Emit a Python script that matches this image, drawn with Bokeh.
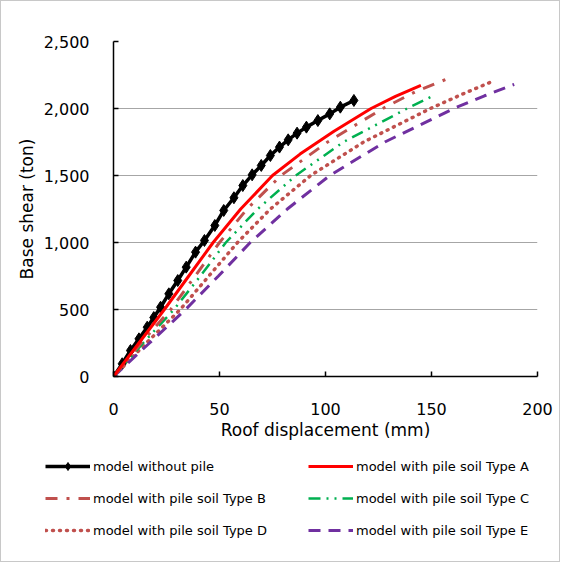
from bokeh.plotting import figure
from bokeh.layouts import column
from bokeh.models import Legend, LegendItem, NumeralTickFormatter, FixedTicker, Range1d
from bokeh.embed import file_html
from bokeh.resources import INLINE

# ---- data (roof displacement in mm, base shear in ton) ----
x_ticks = [0, 50, 100, 150, 200]
y_ticks = [0, 500, 1000, 1500, 2000, 2500]

disp_no_pile = [0, 4.1, 8, 12, 15.9, 19, 22.2, 26.1, 30.3, 34.3, 38.7, 42.9, 47.8, 52,
                56.8, 61, 65.4, 69.7, 74, 78.3, 82.4, 86.6, 91, 96.4, 102, 107, 113.4]
shear_no_pile = [0, 95, 194, 281, 368, 440, 517, 617, 716, 816, 928, 1015, 1127, 1239,
                 1334, 1425, 1505, 1575, 1649, 1712, 1766, 1816, 1861, 1910, 1960, 2010, 2060]

disp_A = [0, 12, 24, 35.5, 47, 60, 75, 88, 104, 121.5, 133, 145]
shear_A = [0, 250, 500, 750, 1000, 1250, 1500, 1660, 1830, 2000, 2090, 2172]

disp_B = [0, 13, 27, 38.5, 50, 63, 79, 101, 127, 143, 159.5]
shear_B = [0, 250, 500, 750, 1000, 1250, 1500, 1750, 2000, 2130, 2234]

disp_C = [0, 14, 28.5, 41, 53, 68, 86, 108.5, 138.5, 150.5]
shear_C = [0, 250, 500, 750, 1000, 1250, 1500, 1750, 2000, 2093]

disp_D = [0, 15.5, 31.5, 45, 58.5, 74, 93, 118, 149.5, 165, 178]
shear_D = [0, 250, 500, 750, 1000, 1250, 1500, 1750, 2000, 2110, 2197]

disp_E = [0, 17, 34, 49.5, 64.5, 82, 102, 128, 160.5, 175, 189]
shear_E = [0, 250, 500, 750, 1000, 1250, 1500, 1750, 2000, 2095, 2180]

labels = ["model without pile", "model with pile soil Type A", "model with pile soil Type B",
          "model with pile soil Type C", "model with pile soil Type D", "model with pile soil Type E"]

FONT = "DejaVu Sans"

styles = {
    "A": dict(line_color="#FF0000", line_width=3),
    "B": dict(line_color="#C0504D", line_width=3, line_dash="12 9 3 9"),
    "C": dict(line_color="#00B050", line_width=2.5, line_dash="12 6 2 6 2 6"),
    "D": dict(line_color="#C0504D", line_width=3.5, line_dash="1 6", line_cap="round"),
    "E": dict(line_color="#7030A0", line_width=3, line_dash="12 8"),
}

p = figure(width=558, height=446, x_range=Range1d(0, 200), y_range=Range1d(0, 2500),
           output_backend="svg", toolbar_location=None,
           min_border_left=112, min_border_right=22, min_border_top=40, min_border_bottom=71)
p.frame_align = False
p.outline_line_color = None
p.xgrid.visible = False
p.ygrid.grid_line_color = "#a6a6a6"
p.ygrid.grid_line_width = 1

p.xaxis.ticker = FixedTicker(ticks=x_ticks)
p.yaxis.ticker = FixedTicker(ticks=y_ticks)
p.yaxis.formatter = NumeralTickFormatter(format="0,0")
for ax in (p.xaxis, p.yaxis):
    ax.axis_line_color = "black"
    ax.axis_line_width = 1.5
    ax.major_tick_line_color = "black"
    ax.major_tick_line_width = 1.5
    ax.major_tick_in = 5
    ax.major_tick_out = 0
    ax.minor_tick_line_color = None
    ax.major_label_text_font = FONT
    ax.major_label_text_font_size = "16px"
    ax.major_label_text_color = "black"
    ax.axis_label_text_font = FONT
    ax.axis_label_text_font_size = "17px"
    ax.axis_label_text_font_style = "normal"
    ax.axis_label_text_color = "black"
p.xaxis.axis_label = "Roof displacement (mm)"
p.yaxis.axis_label = "Base shear (ton)"
p.xaxis.major_label_standoff = 26
p.xaxis.axis_label_standoff = 2
p.yaxis.major_label_standoff = 24
p.yaxis.axis_label_standoff = 4

p.line(disp_no_pile, shear_no_pile, line_color="black", line_width=3.5)
p.scatter(disp_no_pile, shear_no_pile, marker="diamond", size=12, color="black")
p.line(disp_D, shear_D, **styles["D"])
p.line(disp_E, shear_E, **styles["E"])
p.line(disp_C, shear_C, **styles["C"])
p.line(disp_B, shear_B, **styles["B"])
p.line(disp_A, shear_A, **styles["A"])

# ---- legend strip: separate figure; legend samples come from renderers holding no drawable point ----
nan = [float("nan")]
q = figure(width=558, height=114, output_backend="svg", toolbar_location=None,
           x_axis_location=None, y_axis_location=None, min_border=0)
q.frame_align = False
q.grid.visible = False
q.outline_line_color = None
k0 = q.line(nan, nan, line_color="black", line_width=3.5)
k0s = q.scatter(nan, nan, marker="diamond", size=12, color="black")
kA = q.line(nan, nan, **styles["A"])
kB = q.line(nan, nan, **styles["B"])
kC = q.line(nan, nan, **styles["C"])
kD = q.line(nan, nan, **styles["D"])
kE = q.line(nan, nan, **styles["E"])


def make_legend(items, x):
    return Legend(items=items, location=(x, 21), orientation="vertical",
                  border_line_color=None, background_fill_alpha=0, padding=0, margin=0,
                  spacing=12, glyph_width=45, glyph_height=20, label_height=20,
                  label_standoff=3, label_text_font=FONT, label_text_font_size="13px",
                  label_text_color="black")


q.add_layout(make_legend([LegendItem(label=labels[0], renderers=[k0, k0s]),
                          LegendItem(label=labels[2], renderers=[kB]),
                          LegendItem(label=labels[4], renderers=[kD])], 44), "center")
q.add_layout(make_legend([LegendItem(label=labels[1], renderers=[kA]),
                          LegendItem(label=labels[3], renderers=[kC]),
                          LegendItem(label=labels[5], renderers=[kE])], 307), "center")

layout = column(p, q, spacing=0, styles={"border": "1px solid #c8c8c8"})
open("out.html", "w").write(file_html(layout, INLINE))
